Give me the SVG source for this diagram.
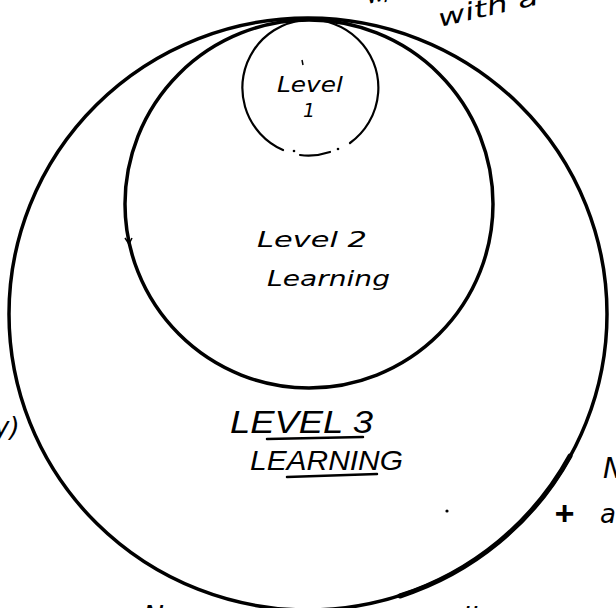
<svg xmlns="http://www.w3.org/2000/svg" width="616" height="608" viewBox="0 0 616 608">
<style>
  .ring { fill: none; stroke: #000; stroke-linecap: round; }
  .hand { font-family: "DejaVu Sans", "Liberation Sans", sans-serif; font-style: italic; fill: #000; }
  .caps { font-family: "Liberation Sans", "DejaVu Sans", sans-serif; font-style: italic; fill: #000; }
</style>
<rect width="616" height="608" fill="#fff"/>

<g id="node-level3">
  <ellipse class="ring" cx="308" cy="314" rx="299" ry="296" stroke-width="3.5"/>
  <path class="ring" d="M 570 456 A 299 296 0 0 1 400 596" stroke-width="5"/>
  <text class="caps" x="230" y="433" font-size="32" textLength="143" lengthAdjust="spacingAndGlyphs">LEVEL 3</text>
  <line x1="267" y1="439" x2="363" y2="437" stroke="#000" stroke-width="2.5" stroke-linecap="round"/>
  <text class="caps" x="250" y="470" font-size="28" textLength="153" lengthAdjust="spacingAndGlyphs">LEARNING</text>
  <line x1="287" y1="477" x2="377" y2="474" stroke="#000" stroke-width="2.5" stroke-linecap="round"/>
</g>

<g id="node-level2">
  <circle class="ring" cx="309" cy="204" r="184" stroke-width="3.5"/>
  <path d="M 125 238 L 129 244 L 132 238" fill="none" stroke="#000" stroke-width="1.5"/>
  <text class="hand" x="257" y="247" font-size="21" textLength="110" lengthAdjust="spacingAndGlyphs">Level 2</text>
  <text class="hand" x="267" y="286" font-size="21" textLength="123" lengthAdjust="spacingAndGlyphs">Learning</text>
</g>

<g id="node-level1">
  <path class="ring" d="M 283 150 A 68 68 0 1 1 350 143" stroke-width="2.2"/>
  <path class="ring" d="M 300 155 Q 315 157 330 152" stroke-width="2.2"/>
  <circle cx="294" cy="151" r="1.3" fill="#000"/>
  <circle cx="338" cy="149" r="1.3" fill="#000"/>
  <line x1="302" y1="60" x2="303" y2="65" stroke="#000" stroke-width="1.5"/>
  <text class="hand" x="277" y="92" font-size="21" textLength="66" lengthAdjust="spacingAndGlyphs">Level</text>
  <text class="hand" x="303" y="117" font-size="19">1</text>
</g>

<g id="annotations">
  <text class="hand" x="440" y="27" font-size="24" textLength="102" lengthAdjust="spacingAndGlyphs" transform="rotate(-13 440 27)">with a</text>
  <text class="hand" x="368" y="4" font-size="22" transform="rotate(-13 368 4)">w/o</text>
  <text class="hand" x="-6" y="436" font-size="26">y)</text>
  <text class="hand" x="603" y="478" font-size="28">N</text>
  <text class="caps" x="554" y="525" font-size="34" font-weight="bold">+</text>
  <text class="hand" x="600" y="523" font-size="26">a</text>
  <circle cx="447" cy="511" r="1.6" fill="#000"/>
  <text class="hand" x="143" y="626" font-size="28">No</text>
  <text class="hand" x="462" y="628" font-size="28">ll</text>
</g>
</svg>
